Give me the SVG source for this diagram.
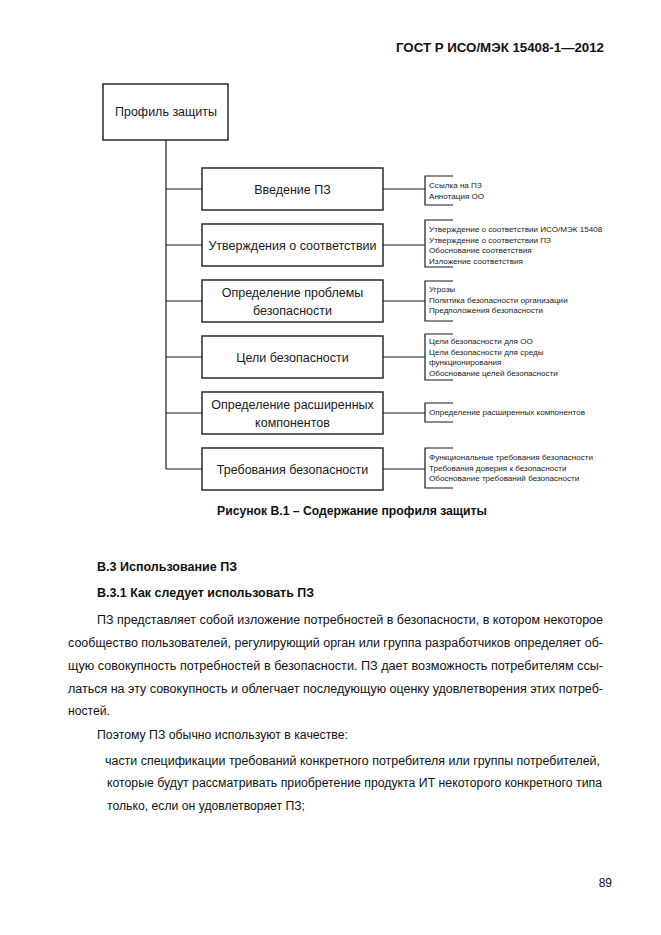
<svg xmlns="http://www.w3.org/2000/svg" width="661" height="935" viewBox="0 0 661 935">
<style>
.box{fill:#fff;stroke:#1a1a1a;stroke-width:1.4}
.ln{fill:none;stroke:#1a1a1a;stroke-width:1.2}
.bt{font-family:"Liberation Sans",Arial,sans-serif;font-size:12.5px;fill:#1a1a1a;text-anchor:middle}
.st{font-family:"Liberation Sans",Arial,sans-serif;font-size:8.1px;fill:#1a1a1a}
.body{font-family:"Liberation Sans",Arial,sans-serif;font-size:12px;fill:#111}
.bold{font-family:"Liberation Sans",Arial,sans-serif;font-size:12px;font-weight:bold;fill:#111}
</style>
<rect width="661" height="935" fill="#fff"/>
<text class="bold" x="604" y="52" text-anchor="end" font-size="13" textLength="208" lengthAdjust="spacingAndGlyphs">ГОСТ Р ИСО/МЭК 15408-1—2012</text>

<g id="connectors">
<path class="ln" d="M166 140V469"/>
<path class="ln" d="M166 189H202M166 245H202M166 301H202M166 357H202M166 413H202M166 469H202"/>
<path class="ln" d="M383 189H425M383 245H425M383 301H425M383 357H425M383 413H425M383 469H425"/>
<path class="ln" d="M453 176H425V205H453"/>
<path class="ln" d="M453 220H425V267H453"/>
<path class="ln" d="M453 281H425V321H453"/>
<path class="ln" d="M453 334H425V380H453"/>
<path class="ln" d="M453 403H425V422H453"/>
<path class="ln" d="M453 448H425V488H453"/>
</g>

<g id="root">
<rect class="box" x="103" y="84" width="125" height="56"/>
<text class="bt" x="166" y="116">Профиль защиты</text>
</g>
<g id="n1">
<rect class="box" x="202" y="168" width="181" height="42"/>
<text class="bt" x="292.5" y="193.5">Введение ПЗ</text>
</g>
<g id="n2">
<rect class="box" x="202" y="224" width="181" height="42"/>
<text class="bt" x="292.5" y="249.5">Утверждения о соответствии</text>
</g>
<g id="n3">
<rect class="box" x="202" y="280" width="181" height="42"/>
<text class="bt" x="292.5" y="297">Определение проблемы</text>
<text class="bt" x="292.5" y="315">безопасности</text>
</g>
<g id="n4">
<rect class="box" x="202" y="336" width="181" height="42"/>
<text class="bt" x="292.5" y="361.5">Цели безопасности</text>
</g>
<g id="n5">
<rect class="box" x="202" y="392" width="181" height="42"/>
<text class="bt" x="292.5" y="409">Определение расширенных</text>
<text class="bt" x="292.5" y="427">компонентов</text>
</g>
<g id="n6">
<rect class="box" x="202" y="448" width="181" height="42"/>
<text class="bt" x="292.5" y="473.5">Требования безопасности</text>
</g>

<g id="s1">
<text class="st" x="429" y="188">Ссылка на ПЗ</text>
<text class="st" x="429" y="198.5">Аннотация ОО</text>
</g>
<g id="s2">
<text class="st" x="429" y="232">Утверждение о соответствии ИСО/МЭК 15408</text>
<text class="st" x="429" y="242.5">Утверждение о соответствии ПЗ</text>
<text class="st" x="429" y="253">Обоснование соответствия</text>
<text class="st" x="429" y="263.5">Изложение соответствия</text>
</g>
<g id="s3">
<text class="st" x="429" y="292">Угрозы</text>
<text class="st" x="429" y="302.5">Политика безопасности организации</text>
<text class="st" x="429" y="313">Предположения безопасности</text>
</g>
<g id="s4">
<text class="st" x="429" y="344">Цели безопасности для ОО</text>
<text class="st" x="429" y="354.5">Цели безопасности для среды</text>
<text class="st" x="429" y="365">функционирования</text>
<text class="st" x="429" y="375.5">Обоснование целей безопасности</text>
</g>
<g id="s5">
<text class="st" x="429" y="415">Определение расширенных компонентов</text>
</g>
<g id="s6">
<text class="st" x="429" y="460">Функциональные требования безопасности</text>
<text class="st" x="429" y="470.5">Требования доверия к безопасности</text>
<text class="st" x="429" y="481">Обоснование требований безопасности</text>
</g>

<text class="bold" x="217" y="515" textLength="270" lengthAdjust="spacingAndGlyphs">Рисунок В.1 – Содержание профиля защиты</text>
<text class="bold" x="97" y="571" textLength="140" lengthAdjust="spacingAndGlyphs">В.3 Использование ПЗ</text>
<text class="bold" x="97" y="597" textLength="217" lengthAdjust="spacingAndGlyphs">В.3.1 Как следует использовать ПЗ</text>

<text class="body" x="97" y="624" textLength="506" lengthAdjust="spacingAndGlyphs">ПЗ представляет собой изложение потребностей в безопасности, в котором некоторое</text>
<text class="body" x="68" y="647" textLength="535" lengthAdjust="spacingAndGlyphs">сообщество пользователей, регулирующий орган или группа разработчиков определяет об-</text>
<text class="body" x="68" y="670" textLength="535" lengthAdjust="spacingAndGlyphs">щую совокупность потребностей в безопасности. ПЗ дает возможность потребителям ссы-</text>
<text class="body" x="68" y="693" textLength="535" lengthAdjust="spacingAndGlyphs">латься на эту совокупность и облегчает последующую оценку удовлетворения этих потреб-</text>
<text class="body" x="68" y="715" textLength="42" lengthAdjust="spacingAndGlyphs">ностей.</text>
<text class="body" x="97" y="739" textLength="251" lengthAdjust="spacingAndGlyphs">Поэтому ПЗ обычно используют в качестве:</text>
<text class="body" x="105" y="765" textLength="495" lengthAdjust="spacingAndGlyphs">части спецификации требований конкретного потребителя или группы потребителей,</text>
<text class="body" x="107" y="787" textLength="495" lengthAdjust="spacingAndGlyphs">которые будут рассматривать приобретение продукта ИТ некоторого конкретного типа</text>
<text class="body" x="107" y="810" textLength="198" lengthAdjust="spacingAndGlyphs">только, если он удовлетворяет ПЗ;</text>

<text class="body" x="612" y="887" text-anchor="end" font-size="13">89</text>
</svg>
